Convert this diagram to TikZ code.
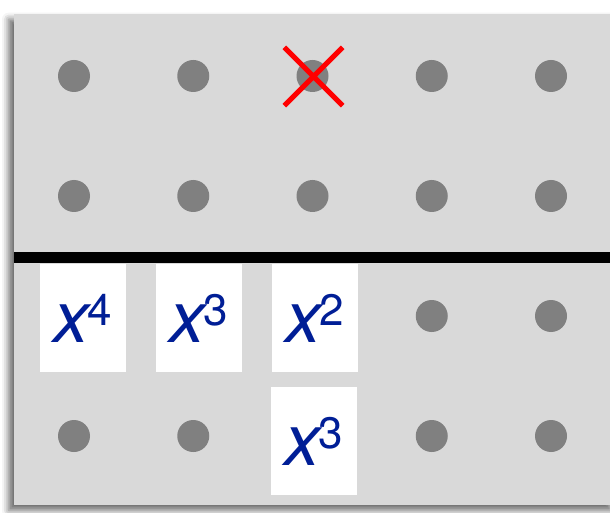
\documentclass[tikz,border=0pt]{standalone}
\usepackage{fontspec}
\setmainfont{TeX Gyre Heros}
\usepackage{xcolor}
\usepackage{tikz}
\usetikzlibrary{shapes.misc,shadows.blur}

\definecolor{boardgray}{RGB}{217,217,217}
\definecolor{peggray}{RGB}{128,128,128}
\definecolor{termblue}{RGB}{0,30,150}

% power of x, as set in the boxes
\newcommand{\xpow}[1]{{\itshape x}\kern-1.5pt\raisebox{12.75pt}{\fontsize{33}{33}\selectfont #1}}

\begin{document}
\begin{tikzpicture}[
  x=0.75pt, y=-0.75pt,
  board/.style={fill=boardgray, blur shadow={shadow xshift=-4pt, shadow yshift=-4pt,
    shadow blur radius=5pt, shadow opacity=60}},
  peg/.style={circle, fill=peggray, minimum size=24pt, inner sep=0pt},
  term/.style={rectangle, fill=white, minimum width=64.5pt, minimum height=81pt,
    inner sep=0pt, text=termblue, font=\fontsize{54}{54}\selectfont},
  strike/.style={cross out, draw=red, line width=3.8pt, minimum size=40pt, inner sep=0pt},
  divider/.style={line width=8.25pt}
]
  \useasboundingbox (0,0) rectangle (610,513);
  \fill[board] (14,14) rectangle (616,505);

  % pegs
  \foreach \r in {1,2}
    \foreach \c in {1,...,5}
      \node[peg] (p\c\r) at ({74+119.25*(\c-1)}, {76+120*(\r-1)}) {};
  \foreach \c/\r in {4/3,5/3,1/4,2/4,4/4,5/4}
    \node[peg] (p\c\r) at ({74+119.25*(\c-1)}, {76+120*(\r-1)}) {};

  \node[strike] (cross) at (313.5,76.5) {};

  \draw[divider] (14,257.5) -- (610,257.5);

  \node[term] (t4) at (83,318) {\xpow{4}};
  \node[term] (t3) at (199,318) {\xpow{3}};
  \node[term] (t2) at (315,318) {\xpow{2}};
  \node[term] (u3) at (314,441) {\xpow{3}};
\end{tikzpicture}
\end{document}
